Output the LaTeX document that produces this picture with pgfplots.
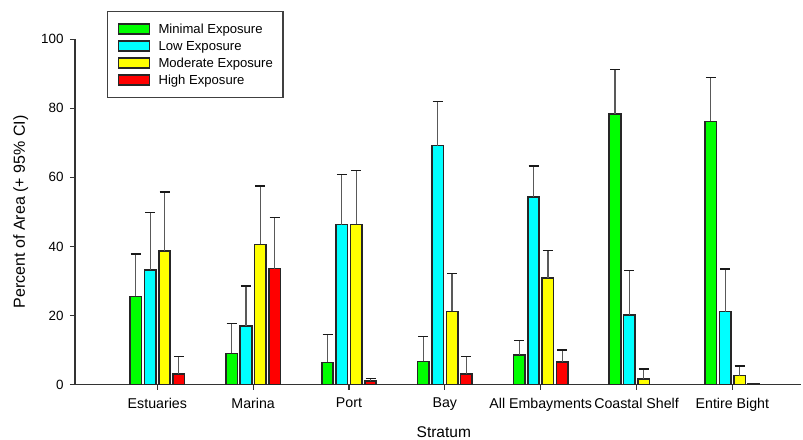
\documentclass[border=0pt]{standalone}
\usepackage{pgfplots}
\usepackage{pgfplotstable}
\pgfplotsset{compat=1.18}
\usepackage{fontspec}
\setmainfont{Liberation Sans}
\definecolor{cgreen}{RGB}{0,255,0}
\definecolor{ccyan}{RGB}{0,255,255}
\definecolor{cyellow}{RGB}{255,255,0}
\definecolor{cred}{RGB}{255,0,0}
\pgfplotstableread{
x minv minerr low lowerr modv moderr high higherr
0 25.5 12.3 33.1 16.8 38.7 17.1 3.1 5.1
1 9.0 8.7 17.0 11.5 40.6 16.9 33.6 14.7
2 6.4 8.0 46.3 14.6 46.4 15.6 1.0 0.8
3 6.7 7.2 69.2 12.8 21.2 11.0 3.1 5.0
4 8.5 4.3 54.4 8.9 30.9 7.9 6.5 3.5
5 78.3 13.0 20.1 13.0 1.6 2.9 nan nan
6 76.2 12.7 21.1 12.4 2.6 2.8 nan nan
}\datatable
\pgfplotstableread{
x high
6 0.3
}\extratable
\begin{document}
\begin{tikzpicture}
\begin{axis}[
  at={(0pt,0pt)}, anchor=south west,
  scale only axis, width=726pt, height=345.2pt,
  xmin=-0.859, xmax=6.716, ymin=0, ymax=100,
  ybar, bar width=11.5pt,
  axis lines=left, axis line style={-, black!80, line width=1.4pt},
  xtick={0,...,6},
  xticklabels={Estuaries, Marina, Port, Bay, All Embayments, Coastal Shelf, Entire Bight},
  ytick={0,20,40,60,80,100},
  tick align=outside, major tick length=5pt, tick style={black!80, line width=1.2pt},
  /pgf/number format/assume math mode=true,
  yticklabel style={font=\fontsize{13.4}{16}\selectfont, xshift=-3pt},
  xticklabel style={font=\fontsize{14.2}{17}\selectfont, yshift=-5pt},
  xlabel={Stratum},
  ylabel={Percent of Area (+ 95\% CI)},
  xlabel style={at={(axis description cs:0.508,-0.153)}, anchor=base, font=\fontsize{15.5}{18}\selectfont},
  ylabel style={at={(axis description cs:-0.0689,0.5)}, anchor=base, font=\fontsize{16}{19}\selectfont},
  legend style={at={(axis description cs:0.04408,1.0829)}, anchor=north west,
    draw=black!75, line width=1.3pt, fill=white,
    inner xsep=10pt, inner ysep=10.6pt, row sep=3.2pt, column sep=8.5pt,
    font=\fontsize{13.1}{15}\selectfont,
    nodes={inner sep=0pt, text height=12pt, text depth=1.8pt}},
  legend cell align=left,
  every axis plot/.append style={draw=black!85, line width=1.6pt,
    legend image code/.code={\draw[#1, line width=1.4pt] (0pt,-5pt) rectangle (31pt,5pt);}},
  error bars/y dir=plus,
  error bars/y explicit,
  error bars/error bar style={black!65, line width=1.2pt},
  error bars/error mark options={black!90, line width=1.3pt, mark size=5pt, rotate=90},
  clip=false,
]
\addplot[bar shift=-21.5pt, fill=cgreen] table[x=x, y=minv, y error=minerr] {\datatable};
\addlegendentry{Minimal Exposure}
\addplot[bar shift=-7.2pt, fill=ccyan] table[x=x, y=low, y error=lowerr] {\datatable};
\addlegendentry{Low Exposure}
\addplot[bar shift=7.2pt, fill=cyellow] table[x=x, y=modv, y error=moderr] {\datatable};
\addlegendentry{Moderate Exposure\hspace{6pt}}
\addplot[bar shift=21.5pt, fill=cred] table[x=x, y=high, y error=higherr] {\datatable};
\addlegendentry{High Exposure}
\addplot[bar shift=21.5pt, fill=cred, forget plot, error bars/y dir=none] table[x=x, y=high] {\extratable};
\end{axis}
\pgfresetboundingbox
\path[use as bounding box] (-75pt,-54.5pt) rectangle (728pt,384.5pt);
\end{tikzpicture}
\end{document}
